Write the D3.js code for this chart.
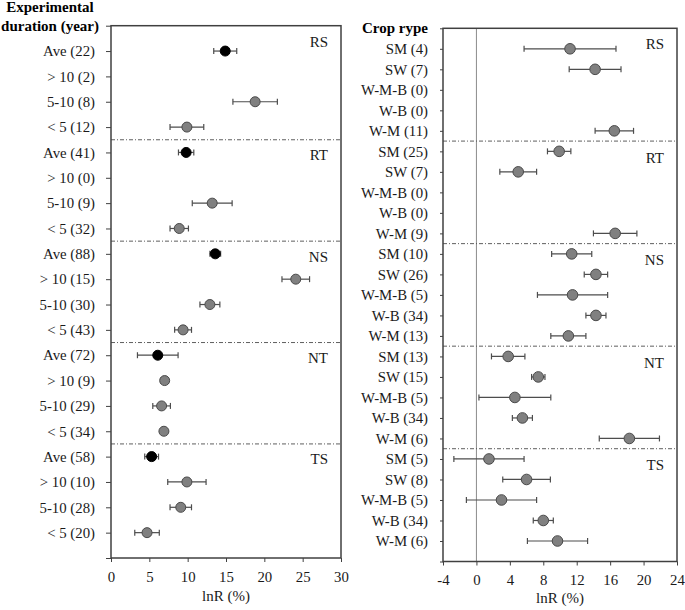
<!DOCTYPE html>
<html>
<head>
<meta charset="utf-8">
<script src="https://cdn.jsdelivr.net/npm/d3@7"></script>
<style>
  body { margin: 0; background: #fff; }
</style>
</head>
<body>
<div id="chart"></div>
<script>
var FONT = "'Liberation Serif', 'Times New Roman', serif";

// tillage groups (same order in both panels)
var groupNames = ["RS", "RT", "NS", "NT", "TS"];

// left panel: experimental duration
var durationLabels = ["Ave (22)", "> 10 (2)", "5-10 (8)", "< 5 (12)",
  "Ave (41)", "> 10 (0)", "5-10 (9)", "< 5 (32)",
  "Ave (88)", "> 10 (15)", "5-10 (30)", "< 5 (43)",
  "Ave (72)", "> 10 (9)", "5-10 (29)", "< 5 (34)",
  "Ave (58)", "> 10 (10)", "5-10 (28)", "< 5 (20)"];
var durationMean = [14.9, null, 18.8, 9.9,
  9.8, null, 13.2, 8.9,
  13.6, 24.1, 12.9, 9.4,
  6.1, 7.0, 6.6, 6.9,
  5.3, 9.9, 9.1, 4.7];
var durationErr = [1.5, null, 2.9, 2.2,
  1.0, null, 2.6, 1.2,
  0.7, 1.8, 1.3, 1.1,
  2.65, 0.5, 1.15, 0.25,
  0.9, 2.5, 1.4, 1.6];
var durationTicks = [0, 5, 10, 15, 20, 25, 30];

// right panel: crop type
var cropLabels = ["SM (4)", "SW (7)", "W-M-B (0)", "W-B (0)", "W-M (11)",
  "SM (25)", "SW (7)", "W-M-B (0)", "W-B (0)", "W-M (9)",
  "SM (10)", "SW (26)", "W-M-B (5)", "W-B (34)", "W-M (13)",
  "SM (13)", "SW (15)", "W-M-B (5)", "W-B (34)", "W-M (6)",
  "SM (5)", "SW (8)", "W-M-B (5)", "W-B (34)", "W-M (6)"];
var cropMean = [11.2, 14.2, null, null, 16.5,
  9.9, 5.0, null, null, 16.6,
  11.4, 14.3, 11.5, 14.3, 11.0,
  3.8, 7.4, 4.6, 5.5, 18.3,
  1.5, 6.0, 3.0, 8.0, 9.7];
var cropErr = [5.5, 3.1, null, null, 2.3,
  1.4, 2.2, null, null, 2.6,
  2.4, 1.4, 4.2, 1.2, 2.1,
  2.0, 0.8, 4.3, 1.2, 3.6,
  4.2, 2.85, 4.2, 1.2, 3.6];
var cropTicks = [-4, 0, 4, 8, 12, 16, 20, 24];

var W = 685, H = 610;
var svg = d3.select("#chart").append("svg")
  .attr("width", W)
  .attr("height", H)
  .style("font-family", FONT);

// draws one forest-plot panel
function DrawPanel(p) {
  var n = p.labels.length;
  var perGroup = n / groupNames.length;
  var x = d3.scaleLinear().domain(p.domain).range([p.x0, p.x1]);
  var y = d3.scaleLinear().domain([0, n + 1]).range([p.y0, p.y1]);
  var g = svg.append("g");

  // x axis
  var xa = g.append("g")
    .attr("transform", "translate(0," + p.y1 + ")")
    .call(d3.axisBottom(x).tickValues(p.ticks).tickSize(4).tickPadding(9)
      .tickFormat(function(d) { return String(d); }));
  xa.select(".domain").remove();
  xa.selectAll("line").attr("stroke", "#404040");
  xa.selectAll("text").style("font-family", FONT).style("font-size", "14.8px").attr("fill", "#1a1a1a");

  // y axis with row labels
  var ya = g.append("g")
    .attr("transform", "translate(" + p.x0 + ",0)")
    .call(d3.axisLeft(y).tickValues(d3.range(0, n + 2)).tickSize(p.tickLen).tickPadding(p.pad)
      .tickFormat(function(i) { return p.labels[i - 1] || ""; }));
  ya.select(".domain").remove();
  ya.selectAll("line").attr("stroke", "#404040");
  ya.selectAll("text").style("font-family", FONT).style("font-size", "14.8px").attr("fill", "#1a1a1a");

  // zero reference line
  if (p.domain[0] < 0) {
    g.append("line")
      .attr("x1", x(0)).attr("x2", x(0))
      .attr("y1", p.y0).attr("y2", p.y1)
      .attr("stroke", "#8c8c8c").attr("stroke-width", 1);
  }

  // group separators
  for (var k = 1; k < groupNames.length; k++) {
    g.append("line")
      .attr("x1", p.x0).attr("x2", p.x1)
      .attr("y1", y(k * perGroup + 0.5)).attr("y2", y(k * perGroup + 0.5))
      .attr("stroke", "#4d4d4d").attr("stroke-width", 0.9)
      .attr("stroke-dasharray", "4,2,1,2");
  }

  // group names
  g.selectAll(".grp").data(groupNames).enter().append("text")
    .attr("x", p.x1 - 13)
    .attr("y", function(d, i) {
      var first = i * perGroup + 1;
      return y(i === 0 ? first - p.firstOff : first + p.otherOff);
    })
    .attr("dy", "0.35em")
    .attr("text-anchor", "end")
    .style("font-family", FONT).style("font-size", "15px")
    .attr("fill", "#1a1a1a")
    .text(function(d) { return d; });

  // error bars and points
  var rows = p.mean.map(function(m, i) {
    return { i: i + 1, m: m, e: p.err[i], ave: p.labels[i].indexOf("Ave") === 0 };
  }).filter(function(d) { return d.m !== null; });

  var eb = g.selectAll(".eb").data(rows).enter().append("g")
    .attr("stroke", "#4d4d4d").attr("stroke-width", 1.2);
  eb.append("line")
    .attr("x1", function(d) { return x(d.m - d.e); })
    .attr("x2", function(d) { return x(d.m + d.e); })
    .attr("y1", function(d) { return y(d.i); })
    .attr("y2", function(d) { return y(d.i); });
  eb.append("line")
    .attr("x1", function(d) { return x(d.m - d.e); })
    .attr("x2", function(d) { return x(d.m - d.e); })
    .attr("y1", function(d) { return y(d.i) - 3; })
    .attr("y2", function(d) { return y(d.i) + 3; });
  eb.append("line")
    .attr("x1", function(d) { return x(d.m + d.e); })
    .attr("x2", function(d) { return x(d.m + d.e); })
    .attr("y1", function(d) { return y(d.i) - 3; })
    .attr("y2", function(d) { return y(d.i) + 3; });

  g.selectAll(".pt").data(rows).enter().append("circle")
    .attr("cx", function(d) { return x(d.m); })
    .attr("cy", function(d) { return y(d.i); })
    .attr("r", p.r)
    .attr("fill", function(d) { return d.ave ? "#000" : "#808080"; })
    .attr("stroke", function(d) { return d.ave ? "#000" : "#4a4a4a"; })
    .attr("stroke-width", 1);

  // frame
  g.append("rect")
    .attr("x", p.x0).attr("y", p.y0)
    .attr("width", p.x1 - p.x0).attr("height", p.y1 - p.y0)
    .attr("fill", "none").attr("stroke", "#404040").attr("stroke-width", 1.5);

  // axis title
  g.append("text")
    .attr("x", (p.x0 + p.x1) / 2).attr("y", p.titleY)
    .attr("text-anchor", "middle")
    .style("font-family", FONT).style("font-size", "15px")
    .attr("fill", "#1a1a1a")
    .text("lnR (%)");

  // panel heading
  g.selectAll(".hd").data(p.heading).enter().append("text")
    .attr("x", p.headX).attr("y", function(d, i) { return p.headY + i * 19; })
    .attr("text-anchor", p.headAnchor)
    .style("font-family", FONT).style("font-size", "15px").style("font-weight", "bold")
    .attr("fill", "#000")
    .text(function(d) { return d; });
}

DrawPanel({
  labels: durationLabels, mean: durationMean, err: durationErr, ticks: durationTicks,
  domain: [0, 30], x0: 111, x1: 341, y0: 25.7, y1: 558,
  tickLen: 5, pad: 11, r: 5, firstOff: 0.36, otherOff: 0.1, titleY: 601,
  heading: ["Experimental", "duration (year)"], headX: 50, headY: 12, headAnchor: "middle"
});

DrawPanel({
  labels: cropLabels, mean: cropMean, err: cropErr, ticks: cropTicks,
  domain: [-4, 24], x0: 443, x1: 677, y0: 28.3, y1: 561.5,
  tickLen: 3, pad: 12, r: 5.3, firstOff: 0.23, otherOff: 0.3, titleY: 603,
  heading: ["Crop rype"], headX: 428, headY: 33, headAnchor: "end"
});
</script>
</body>
</html>
